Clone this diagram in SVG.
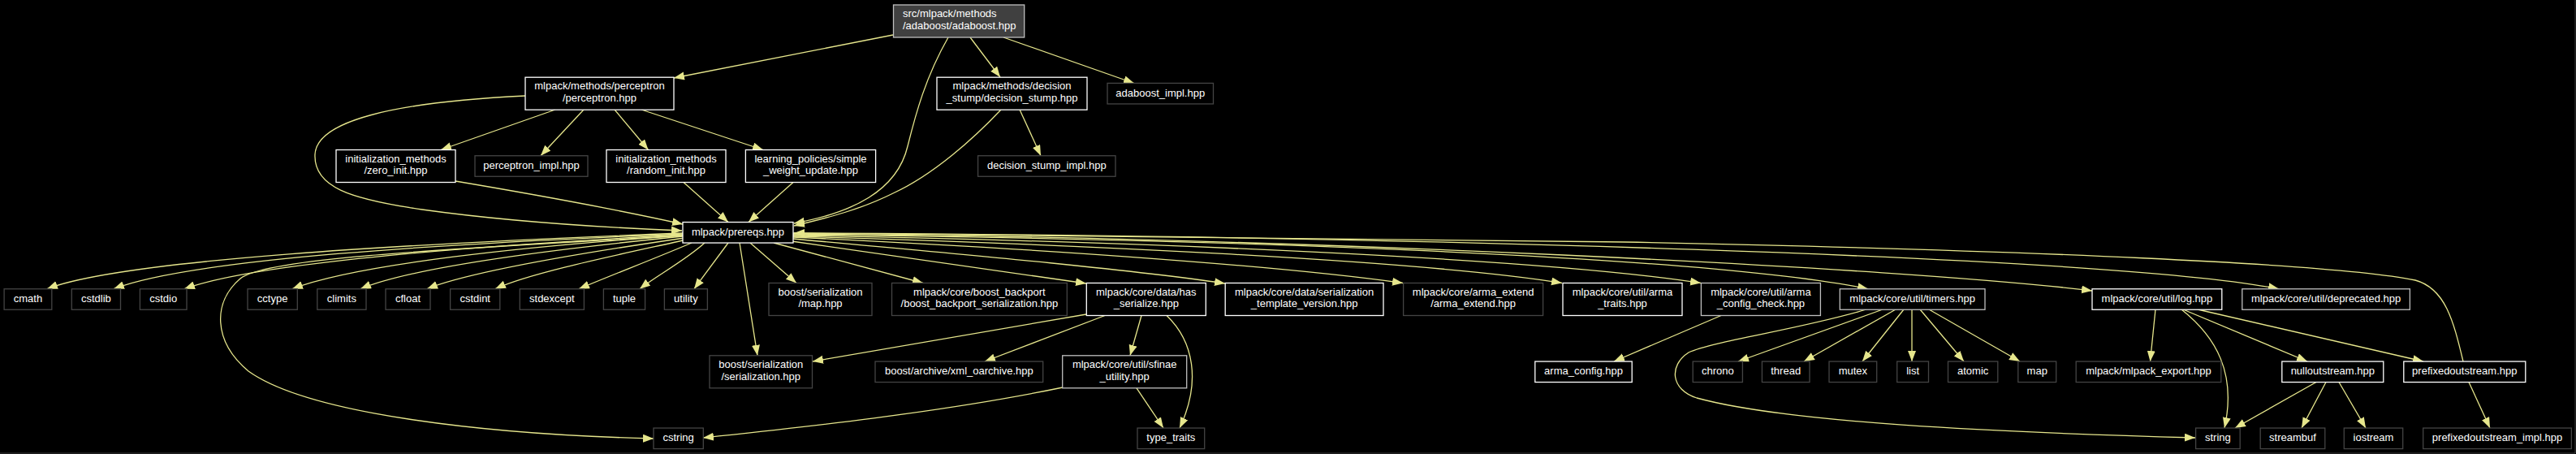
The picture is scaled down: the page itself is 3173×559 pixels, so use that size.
<svg xmlns="http://www.w3.org/2000/svg" width="3173" height="559" viewBox="0 0 3173 559">
<defs>
<marker id="ah" markerUnits="userSpaceOnUse" markerWidth="14" markerHeight="11" viewBox="0 0 14 11" refX="13" refY="5" orient="auto"><path d="M0,0 L13,5 L0,10 z" fill="#e6e68c"/></marker>
<style>
.n rect{fill:#000;stroke-width:1.3}
.w rect{stroke:#ffffff}
.g rect{stroke:#bfbfbf}
.u rect{stroke:#444444}
.root rect{fill:#404040;stroke:#bfbfbf;stroke-width:1.3}
text{font-family:"Liberation Sans",Arial,sans-serif;font-size:13px;fill:#ffffff;text-anchor:middle}
.root text{text-anchor:start}
#edges path{fill:none;stroke:#e6e68c;stroke-width:1.3;marker-end:url(#ah)}
</style>
</defs>
<rect x="0" y="0" width="3173" height="559" fill="#000"/>
<path d="M0,558 H3172 V0" fill="none" stroke="#3c3c3c" stroke-width="1"/>
<g id="edges">
<path d="M1100,43 L830,96"/>
<path d="M1168,46 C1140,95 1128,140 1118,180 C1105,235 1050,262 978,275"/>
<path d="M1195,46 L1232,95"/>
<path d="M1236,46 L1397,102.5"/>
<path d="M647,118 C480,126 390,150 388,190 C386,230 430,245 520,258 C620,272 740,280 840,284"/>
<path d="M561,223 C650,238 760,258 841,276"/>
<path d="M842,224.5 L897,273.5"/>
<path d="M977,224.5 L922,273.5"/>
<path d="M1233,135 C1200,170 1150,215 1100,238 C1060,258 1020,268 978,278"/>
<path d="M684,135 L543,184.5"/>
<path d="M719,135 L666,191.7"/>
<path d="M757,135 L798.5,184.5"/>
<path d="M790,135 L940,184.5"/>
<path d="M1256,135 L1282,191.7"/>
<path d="M841,287 C500,300 150,320 58,355.7"/>
<path d="M841,288 C550,300 240,318 140,355.7"/>
<path d="M841,289 C600,302 320,322 227,355.7"/>
<path d="M841,290 C650,303 440,325 360,355.7"/>
<path d="M841,291 C700,305 510,328 444,355.7"/>
<path d="M843,293 C740,308 585,332 526,355.7"/>
<path d="M846,295 C770,312 655,335 610,355.7"/>
<path d="M852,299 C810,317 755,338 713,355.7"/>
<path d="M868,299 C845,320 808,340 788,355.7"/>
<path d="M897,299 L855,355.7"/>
<path d="M841,290 C600,305 330,315 296,343 C262,372 262,420 306,457 C380,510 600,535 805,540"/>
<path d="M911,299 L933,437.8"/>
<path d="M924,299 L981,348.5"/>
<path d="M953,299 L1137,348.5"/>
<path d="M975,297 L1338,349"/>
<path d="M977,294 C1150,310 1380,330 1509,349"/>
<path d="M977,292 C1250,305 1560,325 1728,348.5"/>
<path d="M977,291 C1300,300 1750,320 1924,348.5"/>
<path d="M977,290 C1400,297 1900,318 2095,348.5"/>
<path d="M977,289 C1500,294 2100,315 2301,355.7"/>
<path d="M977,288 C1600,292 2350,330 2577,358"/>
<path d="M977,287 C1700,290 2600,315 2807,355.7"/>
<path d="M1338,387 L1001,445"/>
<path d="M1361,388.5 L1213,445"/>
<path d="M1406,388.5 L1392,437.8"/>
<path d="M1437,388.5 C1470,420 1480,470 1453,527"/>
<path d="M1400,477.8 L1433,527"/>
<path d="M1309,477 C1150,510 950,530 866,539"/>
<path d="M2120,388.5 L1988,445"/>
<path d="M2299,381 C2220,405 2110,420 2080,434 C2055,450 2058,480 2090,490 C2200,520 2450,532 2704,539"/>
<path d="M2319,381 L2141,445"/>
<path d="M2335,381 L2222,445"/>
<path d="M2345,381 L2294,445"/>
<path d="M2355,381 L2355,445"/>
<path d="M2365,381 L2419,445"/>
<path d="M2376,381 L2488,445"/>
<path d="M2655,381 L2648.5,445"/>
<path d="M2687,381 C2730,415 2755,460 2740,527"/>
<path d="M2689,381 L2842,445"/>
<path d="M2707,381 L2985,445"/>
<path d="M2853,470.5 L2753,527"/>
<path d="M2865,470.5 L2835,527"/>
<path d="M2881,470.5 L2914,527"/>
<path d="M3041,470.5 L3067,527"/>
<path d="M3034,445 C3022,395 3012,355 2975,345 C2880,325 2500,308 2000,298 C1600,292 1200,288 978,287"/>
</g>
<g id="n_adaboost" class="root"><rect x="1100.5" y="6" width="161.2" height="40"/><text x="1112" y="21.2">src/mlpack/methods</text><text x="1112" y="35.8">/adaboost/adaboost.hpp</text></g>
<g id="n_perceptron" class="n w"><rect x="647" y="95.2" width="183" height="40"/><text x="738.5" y="110.4">mlpack/methods/perceptron</text><text x="738.5" y="125">/perceptron.hpp</text></g>
<g id="n_decision_stump" class="n w"><rect x="1154" y="95.2" width="185" height="40"/><text x="1246.5" y="110.4">mlpack/methods/decision</text><text x="1246.5" y="125">_stump/decision_stump.hpp</text></g>
<g id="n_adaboost_impl" class="n u"><rect x="1364" y="102.45" width="130.5" height="25.5"/><text x="1429.25" y="118.7">adaboost_impl.hpp</text></g>
<g id="n_zero_init" class="n w"><rect x="414" y="184.5" width="147" height="40"/><text x="487.5" y="199.7">initialization_methods</text><text x="487.5" y="214.3">/zero_init.hpp</text></g>
<g id="n_perceptron_impl" class="n u"><rect x="585" y="191.75" width="139" height="25.5"/><text x="654.5" y="208">perceptron_impl.hpp</text></g>
<g id="n_random_init" class="n w"><rect x="747" y="184.5" width="147" height="40"/><text x="820.5" y="199.7">initialization_methods</text><text x="820.5" y="214.3">/random_init.hpp</text></g>
<g id="n_simple_weight_update" class="n w"><rect x="918.4" y="184.5" width="160.2" height="40"/><text x="998.5" y="199.7">learning_policies/simple</text><text x="998.5" y="214.3">_weight_update.hpp</text></g>
<g id="n_decision_stump_impl" class="n u"><rect x="1204.6" y="191.75" width="169.4" height="25.5"/><text x="1289.3" y="208">decision_stump_impl.hpp</text></g>
<g id="n_prereqs" class="n w"><rect x="841" y="273.55" width="136" height="25.5"/><text x="909" y="289.8">mlpack/prereqs.hpp</text></g>
<g id="n_cmath" class="n u"><rect x="5.1" y="355.75" width="58.7" height="25.5"/><text x="34.45" y="372">cmath</text></g>
<g id="n_cstdlib" class="n u"><rect x="88.3" y="355.75" width="60.2" height="25.5"/><text x="118.4" y="372">cstdlib</text></g>
<g id="n_cstdio" class="n u"><rect x="172.4" y="355.75" width="57.6" height="25.5"/><text x="201.2" y="372">cstdio</text></g>
<g id="n_cctype" class="n u"><rect x="305" y="355.75" width="61.3" height="25.5"/><text x="335.65" y="372">cctype</text></g>
<g id="n_climits" class="n u"><rect x="390.8" y="355.75" width="60.2" height="25.5"/><text x="420.9" y="372">climits</text></g>
<g id="n_cfloat" class="n u"><rect x="475" y="355.75" width="55" height="25.5"/><text x="502.5" y="372">cfloat</text></g>
<g id="n_cstdint" class="n u"><rect x="554.6" y="355.75" width="61.2" height="25.5"/><text x="585.2" y="372">cstdint</text></g>
<g id="n_stdexcept" class="n u"><rect x="640.3" y="355.75" width="79.1" height="25.5"/><text x="679.85" y="372">stdexcept</text></g>
<g id="n_tuple" class="n u"><rect x="743.4" y="355.75" width="51.2" height="25.5"/><text x="769" y="372">tuple</text></g>
<g id="n_utility" class="n u"><rect x="818.4" y="355.75" width="53" height="25.5"/><text x="844.9" y="372">utility</text></g>
<g id="n_boost_map" class="n u"><rect x="947" y="348.5" width="127" height="40"/><text x="1010.5" y="363.7">boost/serialization</text><text x="1010.5" y="378.3">/map.hpp</text></g>
<g id="n_boost_backport" class="n u"><rect x="1098.5" y="348.5" width="215.8" height="40"/><text x="1206.4" y="363.7">mlpack/core/boost_backport</text><text x="1206.4" y="378.3">/boost_backport_serialization.hpp</text></g>
<g id="n_has_serialize" class="n w"><rect x="1338.3" y="348.5" width="147" height="40"/><text x="1411.8" y="363.7">mlpack/core/data/has</text><text x="1411.8" y="378.3">_serialize.hpp</text></g>
<g id="n_template_version" class="n w"><rect x="1509.2" y="348.5" width="194.8" height="40"/><text x="1606.6" y="363.7">mlpack/core/data/serialization</text><text x="1606.6" y="378.3">_template_version.hpp</text></g>
<g id="n_arma_extend" class="n u"><rect x="1728.6" y="348.5" width="172" height="40"/><text x="1814.6" y="363.7">mlpack/core/arma_extend</text><text x="1814.6" y="378.3">/arma_extend.hpp</text></g>
<g id="n_arma_traits" class="n w"><rect x="1925" y="348.5" width="147" height="40"/><text x="1998.5" y="363.7">mlpack/core/util/arma</text><text x="1998.5" y="378.3">_traits.hpp</text></g>
<g id="n_arma_config_check" class="n g"><rect x="2095.4" y="348.5" width="147" height="40"/><text x="2168.9" y="363.7">mlpack/core/util/arma</text><text x="2168.9" y="378.3">_config_check.hpp</text></g>
<g id="n_timers" class="n g"><rect x="2266.3" y="355.75" width="178.7" height="25.5"/><text x="2355.65" y="372">mlpack/core/util/timers.hpp</text></g>
<g id="n_log" class="n w"><rect x="2577" y="355.75" width="159.8" height="25.5"/><text x="2656.9" y="372">mlpack/core/util/log.hpp</text></g>
<g id="n_deprecated" class="n g"><rect x="2761.8" y="355.75" width="206.6" height="25.5"/><text x="2865.1" y="372">mlpack/core/util/deprecated.hpp</text></g>
<g id="n_serialization" class="n u"><rect x="874" y="437.8" width="126.5" height="40"/><text x="937.25" y="453">boost/serialization</text><text x="937.25" y="467.6">/serialization.hpp</text></g>
<g id="n_xml_oarchive" class="n u"><rect x="1078" y="445.05" width="206.7" height="25.5"/><text x="1181.35" y="461.3">boost/archive/xml_oarchive.hpp</text></g>
<g id="n_sfinae_utility" class="n g"><rect x="1308.7" y="437.8" width="153" height="40"/><text x="1385.2" y="453">mlpack/core/util/sfinae</text><text x="1385.2" y="467.6">_utility.hpp</text></g>
<g id="n_arma_config" class="n w"><rect x="1890.8" y="445.05" width="119.4" height="25.5"/><text x="1950.5" y="461.3">arma_config.hpp</text></g>
<g id="n_chrono" class="n u"><rect x="2085.2" y="445.05" width="61.2" height="25.5"/><text x="2115.8" y="461.3">chrono</text></g>
<g id="n_thread" class="n u"><rect x="2170.4" y="445.05" width="58.6" height="25.5"/><text x="2199.7" y="461.3">thread</text></g>
<g id="n_mutex" class="n u"><rect x="2253" y="445.05" width="58.7" height="25.5"/><text x="2282.35" y="461.3">mutex</text></g>
<g id="n_list" class="n u"><rect x="2336.7" y="445.05" width="38.8" height="25.5"/><text x="2356.1" y="461.3">list</text></g>
<g id="n_atomic" class="n u"><rect x="2399.5" y="445.05" width="61.3" height="25.5"/><text x="2430.15" y="461.3">atomic</text></g>
<g id="n_map" class="n u"><rect x="2485.8" y="445.05" width="46.9" height="25.5"/><text x="2509.25" y="461.3">map</text></g>
<g id="n_mlpack_export" class="n u"><rect x="2557.2" y="445.05" width="178.6" height="25.5"/><text x="2646.5" y="461.3">mlpack/mlpack_export.hpp</text></g>
<g id="n_nulloutstream" class="n w"><rect x="2810.8" y="445.05" width="125" height="25.5"/><text x="2873.3" y="461.3">nulloutstream.hpp</text></g>
<g id="n_prefixedoutstream" class="n w"><rect x="2960.8" y="445.05" width="150" height="25.5"/><text x="3035.8" y="461.3">prefixedoutstream.hpp</text></g>
<g id="n_cstring" class="n u"><rect x="805" y="527.05" width="61.3" height="25.5"/><text x="835.65" y="543.3">cstring</text></g>
<g id="n_type_traits" class="n u"><rect x="1401" y="527.05" width="82.7" height="25.5"/><text x="1442.35" y="543.3">type_traits</text></g>
<g id="n_string" class="n u"><rect x="2704.6" y="527.05" width="54.6" height="25.5"/><text x="2731.9" y="543.3">string</text></g>
<g id="n_streambuf" class="n u"><rect x="2784.2" y="527.05" width="79.6" height="25.5"/><text x="2824" y="543.3">streambuf</text></g>
<g id="n_iostream" class="n u"><rect x="2887.3" y="527.05" width="72.4" height="25.5"/><text x="2923.5" y="543.3">iostream</text></g>
<g id="n_prefixedoutstream_impl" class="n u"><rect x="2984.7" y="527.05" width="182.7" height="25.5"/><text x="3076.05" y="543.3">prefixedoutstream_impl.hpp</text></g>
</svg>
